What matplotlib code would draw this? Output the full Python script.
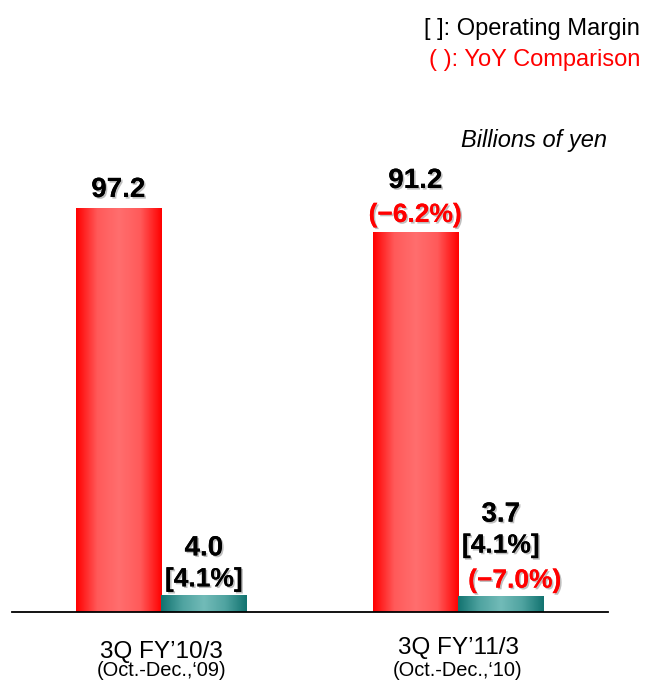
import numpy as np
import matplotlib
matplotlib.use("Agg")
import matplotlib.pyplot as plt
from matplotlib import patheffects as pe
from matplotlib.colors import LinearSegmentedColormap

# ---- data ----
categories = ["3Q FY\u201910/3", "3Q FY\u201911/3"]
periods = ["(Oct.-Dec.,\u201809)", "(Oct.-Dec.,\u201810)"]
net_sales = [97.2, 91.2]
op_income = [4.0, 3.7]
op_margin = ["[4.1%]", "[4.1%]"]
sales_yoy = [None, "(\u22126.2%)"]
income_yoy = [None, "(\u22127.0%)"]

W, H = 646, 682
fig = plt.figure(figsize=(W / 100, H / 100), dpi=100)
ax_left, ax_right = 12, 608
ax_bottom, ax_top = 612, 100
ax = fig.add_axes([ax_left / W, (H - ax_bottom) / H,
                   (ax_right - ax_left) / W, (ax_bottom - ax_top) / H])

ymax = 97.2 * (ax_bottom - ax_top) / (ax_bottom - 208)
ax.set_xlim(-0.502, 1.505)
ax.set_ylim(0, ymax)
for s in ["top", "left", "right"]:
    ax.spines[s].set_visible(False)
ax.spines["bottom"].set_linewidth(1.3)
ax.set_xticks([])
ax.set_yticks([])

red_cmap = LinearSegmentedColormap.from_list(
    "r", ["#ff0000", "#ff5a5a", "#ff6e6e", "#ff5a5a", "#ff0000"])
teal_cmap = LinearSegmentedColormap.from_list(
    "t", ["#127370", "#4fa3a0", "#72bbb8", "#4fa3a0", "#127370"])

bw = 0.288
grad = np.linspace(0, 1, 256).reshape(1, -1)

def gbar(x0, h, cmap):
    ax.imshow(grad, cmap=cmap, extent=(x0, x0 + bw, 0, h), aspect="auto",
              interpolation="bicubic", zorder=2)

num_font = "Liberation Sans"
shadow = [pe.withSimplePatchShadow(offset=(1.2, -1.2), shadow_rgbFace="#b0b0b0", alpha=0.8), pe.Normal()]

for i in range(len(categories)):
    xr = i - bw
    xt = i
    gbar(xr, net_sales[i], red_cmap)
    gbar(xt, op_income[i], teal_cmap)
    cr = xr + bw / 2
    ct = xt + bw / 2

    # net sales labels
    off = 18
    if sales_yoy[i]:
        ax.annotate(sales_yoy[i], (cr, net_sales[i]), xytext=(0, 18),
                    textcoords="offset pixels", ha="center", va="center",
                    fontsize=19, fontweight="bold", color="#ff0000",
                    family=num_font, path_effects=shadow)
        off = 52
    ax.annotate(f"{net_sales[i]:.1f}", (cr, net_sales[i]), xytext=(0, off),
                textcoords="offset pixels", ha="center", va="center",
                fontsize=20, fontweight="bold", color="black",
                family=num_font, path_effects=shadow)

    # operating income labels
    off = 16
    if income_yoy[i]:
        ax.annotate(income_yoy[i], (ct, op_income[i]), xytext=(14, 16),
                    textcoords="offset pixels", ha="center", va="center",
                    fontsize=19, fontweight="bold", color="#ff0000",
                    family=num_font, path_effects=shadow)
        off = 51
    ax.annotate(op_margin[i], (ct, op_income[i]), xytext=(0, off),
                textcoords="offset pixels", ha="center", va="center",
                fontsize=19, fontweight="bold", color="black",
                family=num_font, path_effects=shadow)
    ax.annotate(f"{op_income[i]:.1f}", (ct, op_income[i]), xytext=(0, off + 31),
                textcoords="offset pixels", ha="center", va="center",
                fontsize=20, fontweight="bold", color="black",
                family=num_font, path_effects=shadow)

    # category labels
    dy = -40 if i == 0 else -36
    ax.annotate(categories[i], (i, 0), xytext=(0, dy), textcoords="offset pixels",
                ha="center", va="center", fontsize=17.5, family="Liberation Sans",
                annotation_clip=False)
    ax.annotate(periods[i], (i, 0), xytext=(0, -59), textcoords="offset pixels",
                ha="center", va="center", fontsize=14.4, family="Liberation Sans",
                annotation_clip=False)

fig.text(640 / W, 1 - 29 / H, "[ ]: Operating Margin", ha="right", va="center",
         fontsize=17, family="Liberation Sans", color="black")
fig.text(640 / W, 1 - 60 / H, "( ): YoY Comparison", ha="right", va="center",
         fontsize=17, family="Liberation Sans", color="#ff0000")
fig.text(534 / W, 1 - 140 / H, "Billions of yen", ha="center", va="center",
         fontsize=17, family="Liberation Sans", style="italic", color="black")

fig.savefig("out.png", dpi=100)
